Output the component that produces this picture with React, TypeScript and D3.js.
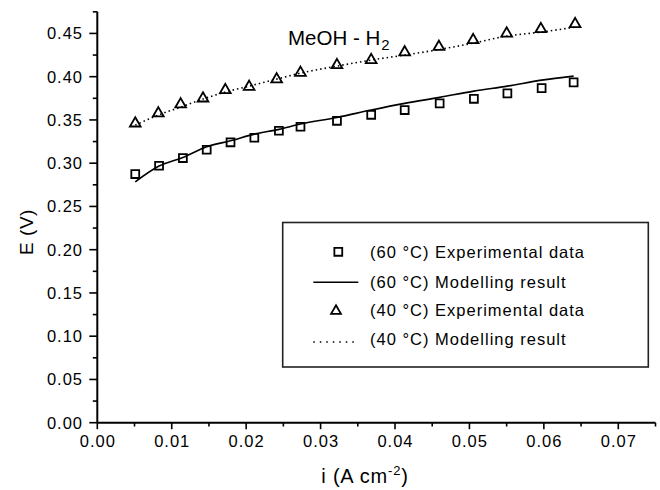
import React from "react";
import * as d3 from "d3";

// ---- data ----
const exp60X = [0.0051, 0.0083, 0.0115, 0.0147, 0.0179, 0.0211, 0.0244, 0.0273, 0.0322, 0.0368, 0.0413, 0.046, 0.0506, 0.0551, 0.0597, 0.064];
const exp60E = [0.2874, 0.297, 0.3059, 0.3155, 0.3241, 0.3294, 0.3375, 0.3421, 0.349, 0.3559, 0.3614, 0.3691, 0.3744, 0.3807, 0.3868, 0.3934];
const model60E = [0.2785, 0.2967, 0.3067, 0.319, 0.3259, 0.3336, 0.3391, 0.3452, 0.3529, 0.3614, 0.3691, 0.3761, 0.3833, 0.3891, 0.396, 0.4007];

const exp40X = [0.0051, 0.0082, 0.0112, 0.0142, 0.0172, 0.0204, 0.0241, 0.0273, 0.0322, 0.0368, 0.0413, 0.0459, 0.0505, 0.055, 0.0596, 0.0642];
const exp40E = [0.346, 0.3576, 0.368, 0.3749, 0.3845, 0.3883, 0.3969, 0.4045, 0.4134, 0.4192, 0.4281, 0.4345, 0.4423, 0.45, 0.455, 0.4608];
const model40E = [0.344, 0.3556, 0.3648, 0.3741, 0.3822, 0.3891, 0.3972, 0.4041, 0.4122, 0.4192, 0.425, 0.4313, 0.4388, 0.4469, 0.4515, 0.4573];

const xTicks = [0, 0.01, 0.02, 0.03, 0.04, 0.05, 0.06, 0.07];
const xTickLabels = ["0.00", "0.01", "0.02", "0.03", "0.04", "0.05", "0.06", "0.07"];
const yTicks = [0, 0.05, 0.1, 0.15, 0.2, 0.25, 0.3, 0.35, 0.4, 0.45];
const yTickLabels = ["0.00", "0.05", "0.10", "0.15", "0.20", "0.25", "0.30", "0.35", "0.40", "0.45"];

const legendLabels = [
  "(60 °C) Experimental data",
  "(60 °C) Modelling result",
  "(40 °C) Experimental data",
  "(40 °C) Modelling result",
];

const FONT = "'Liberation Sans', Arial, Helvetica, sans-serif";
const INK = "#000";

export default function App() {
  const x = d3.scaleLinear().domain([0, 0.075]).range([97.3, 655.5]);
  const y = d3.scaleLinear().domain([0, 0.475]).range([422.7, 11.8]);

  const xMinor = d3.range(0.005, 0.0751, 0.01);
  const yMinor = d3.range(0.025, 0.4751, 0.05);

  const line = d3
    .line<[number, number]>()
    .x((d) => x(d[0]))
    .y((d) => y(d[1]))
    .curve(d3.curveMonotoneX);

  const sq = d3.symbol(d3.symbolSquare, 62)() as string;
  const tri = d3.symbol(d3.symbolTriangle, 50)() as string;
  const triLeg = d3.symbol(d3.symbolTriangle, 42)() as string;

  const m60 = exp60X.map((v, i) => [v, model60E[i]] as [number, number]);
  const m40 = exp40X.map((v, i) => [v, model40E[i]] as [number, number]);

  const x0 = x(0);
  const yBase = y(0);

  const legX = 282.7;
  const legY = 222.5;
  const legW = 648.3 - 282.7;
  const legH = 367 - 222.5;
  const legBaselines = [258.3, 287.7, 316, 345];

  const textStyle = { fontFamily: FONT, fontSize: 16.5, letterSpacing: 1, fill: INK } as React.CSSProperties;

  return (
    <svg
      width={660}
      height={490}
      style={{ position: "absolute", left: 0, top: 0, background: "#fff" }}
    >
      <rect x={0} y={0} width={660} height={490} fill="#fff" />

      {/* model lines */}
      <path d={line(m60) as string} fill="none" stroke={INK} strokeWidth={1.6} />
      <path d={line(m40) as string} fill="none" stroke={INK} strokeWidth={1.6} strokeDasharray="1.5 3" />

      {/* markers */}
      {exp60X.map((v, i) => (
        <path key={"s" + i} d={sq} transform={`translate(${x(v)},${y(exp60E[i])})`} fill="none" stroke={INK} strokeWidth={1.8} />
      ))}
      {exp40X.map((v, i) => (
        <path key={"t" + i} d={tri} transform={`translate(${x(v)},${y(exp40E[i])})`} fill="none" stroke={INK} strokeWidth={1.8} />
      ))}

      {/* axes */}
      <line x1={x0} x2={x0} y1={y(0.475)} y2={yBase} stroke={INK} strokeWidth={2} />
      <line x1={x0} x2={x(0.075)} y1={yBase} y2={yBase} stroke={INK} strokeWidth={2} />

      {xTicks.map((t, i) => (
        <g key={"xt" + i}>
          <line x1={x(t)} x2={x(t)} y1={yBase} y2={yBase + 6.5} stroke={INK} strokeWidth={1.6} />
          <text x={x(t) + 0.5} y={446.7} textAnchor="middle" style={textStyle}>
            {xTickLabels[i]}
          </text>
        </g>
      ))}
      {xMinor.map((t, i) => (
        <line key={"xm" + i} x1={x(t)} x2={x(t)} y1={yBase} y2={yBase + 3.8} stroke={INK} strokeWidth={1.6} />
      ))}

      {yTicks.map((t, i) => (
        <g key={"yt" + i}>
          <line x1={x0 - 8} x2={x0} y1={y(t)} y2={y(t)} stroke={INK} strokeWidth={1.6} />
          <text x={83} y={y(t) + 6} textAnchor="end" style={textStyle}>
            {yTickLabels[i]}
          </text>
        </g>
      ))}
      {yMinor.map((t, i) => (
        <line key={"ym" + i} x1={x0 - 4.5} x2={x0} y1={y(t)} y2={y(t)} stroke={INK} strokeWidth={1.6} />
      ))}

      {/* axis titles */}
      <text
        transform={`translate(33,232) rotate(-90)`}
        textAnchor="middle"
        style={{ fontFamily: FONT, fontSize: 19, letterSpacing: 0.5, fill: INK }}
      >
        E (V)
      </text>
      <text x={365} y={483} textAnchor="middle" style={{ fontFamily: FONT, fontSize: 20, letterSpacing: 0.8, fill: INK }}>
        i (A cm
        <tspan fontSize={13} dy={-8}>-2</tspan>
        <tspan dy={8}>)</tspan>
      </text>

      {/* annotation */}
      <text x={288} y={45} style={{ fontFamily: FONT, fontSize: 20.5, fill: INK }}>
        MeOH - H
        <tspan fontSize={15} dx={1} dy={5}>2</tspan>
      </text>

      {/* legend */}
      <rect x={legX} y={legY} width={legW} height={legH} fill="#fff" stroke="#222" strokeWidth={1.6} />
      <path d={sq} transform={`translate(338.3,${legBaselines[0] - 6.5})`} fill="none" stroke={INK} strokeWidth={1.8} />
      <line x1={313.3} x2={358.3} y1={legBaselines[1] - 5.5} y2={legBaselines[1] - 5.5} stroke={INK} strokeWidth={1.6} />
      <path d={triLeg} transform={`translate(336,${legBaselines[2] - 5})`} fill="none" stroke={INK} strokeWidth={1.8} />
      <line x1={313.3} x2={358.3} y1={legBaselines[3] - 3} y2={legBaselines[3] - 3} stroke={INK} strokeWidth={1.6} strokeDasharray="1.5 5" />
      {legendLabels.map((l, i) => (
        <text key={"lg" + i} x={370} y={legBaselines[i]} style={textStyle}>
          {l}
        </text>
      ))}
    </svg>
  );
}
